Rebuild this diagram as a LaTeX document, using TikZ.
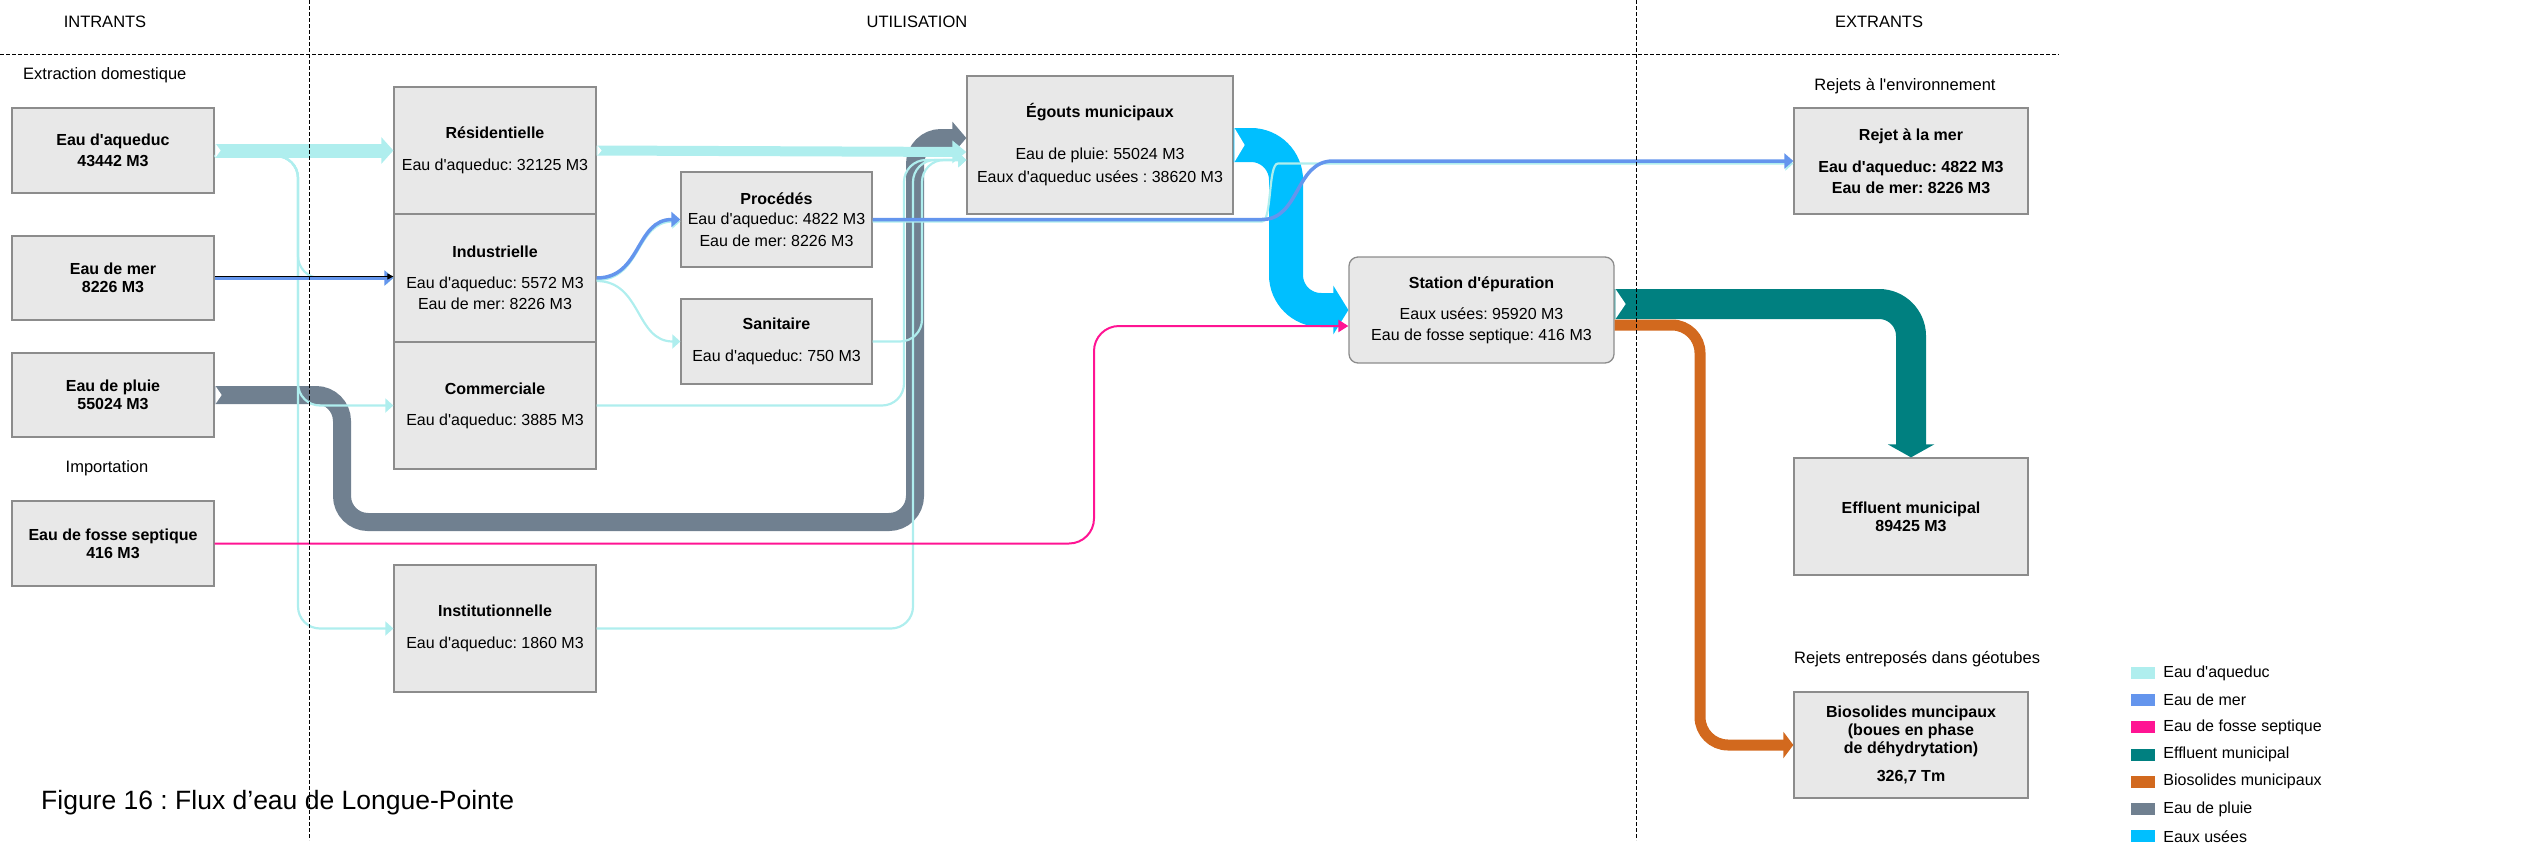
\documentclass[tikz,border=0pt]{standalone}
\usepackage{fontspec}
\setmainfont{Liberation Sans}
\newfontfamily\arial{Liberation Sans}
\usetikzlibrary{arrows.meta,positioning,calc}
\frenchspacing

\definecolor{colAqueduc}{HTML}{AFEEEE}
\definecolor{colMer}{HTML}{6495ED}
\definecolor{colFosse}{HTML}{FF1493}
\definecolor{colEffluent}{HTML}{008080}
\definecolor{colBiosol}{HTML}{D2691E}
\definecolor{colPluie}{HTML}{708090}
\definecolor{colUsees}{HTML}{00BFFF}
\definecolor{boxfill}{HTML}{E8E8E8}
\definecolor{boxline}{HTML}{8C8C8C}

% V-shaped notch at the tail of a band: anchor, half width, depth
\newcommand\notch[3]{\fill[white] ($(#1)+(0.8,-#2)$) -- ($(#1)+(#3,0)$) -- ($(#1)+(0.8,#2)$) -- cycle;}

\begin{document}
\begin{tikzpicture}[x=1pt,y=-1pt,
  every node/.style={font=\arial\fontsize{16}{18}\selectfont, inner sep=0pt},
  boldtext/.style={font=\arial\bfseries\fontsize{16}{18}\selectfont},
  heading/.style={font=\arial\fontsize{16.5}{18}\selectfont},
  flowbox/.style={draw=boxline, fill=boxfill, line width=1.3pt, align=center},
  inbox/.style={flowbox, boldtext, minimum width=202pt, minimum height=85pt},
  sectorbox/.style={flowbox, minimum width=202pt, minimum height=127pt},
  outbox/.style={flowbox, boldtext, minimum width=234pt},
  band/.style={line width=#1, line cap=butt},
  pale/.style={draw=colAqueduc, line width=2.2pt, rounded corners=22pt, -{Triangle[length=8pt,width=14pt]}},
  seaflow/.style={draw=colMer, line width=3.5pt, -{Triangle[length=9pt,width=15pt]}},
  divider/.style={line width=1pt, dash pattern=on 4pt off 2pt},
  swatch/.style={minimum width=24pt, minimum height=12pt}
]
\useasboundingbox (0,0) rectangle (2531,852);

% headings
\node[heading] (intrants) at (105,22) {INTRANTS};
\node[heading] (utilisation) at (917,22) {UTILISATION};
\node[heading] (extrants) at (1879,22) {EXTRANTS};
\node[heading, anchor=west] (extraction) at (23,75) {Extraction domestique};
\node[heading] (importation) at (107,468) {Importation};
\node[heading] (environnement) at (1905,86) {Rejets à l'environnement};
\node[heading, anchor=west] (geotubes) at (1794,659) {Rejets entreposés dans géotubes};

% intrants
\node[inbox] (aqueduc) at (113,150.5) {Eau d'aqueduc\\[3pt]43442 M3};
\node[inbox, minimum height=84pt] (mer) at (113,278) {Eau de mer\\8226 M3};
\node[inbox, minimum height=84pt] (pluie) at (113,395) {Eau de pluie\\55024 M3};
\node[inbox] (fosse) at (113,543.5) {Eau de fosse septique\\416 M3};

% utilisation
\node[sectorbox] (resid) at (495,150.5) {\textbf{Résidentielle}\\[14pt]Eau d'aqueduc: 32125 M3};
\node[sectorbox, minimum height=128pt] (indus) at (495,278) {\textbf{Industrielle}\\[13pt]Eau d'aqueduc: 5572 M3\\[3pt]Eau de mer: 8226 M3};
\node[sectorbox] (comm) at (495,405.5) {\textbf{Commerciale}\\[13pt]Eau d'aqueduc: 3885 M3};
\node[sectorbox] (instit) at (495,628.5) {\textbf{Institutionnelle}\\[14pt]Eau d'aqueduc: 1860 M3};
\node[flowbox, minimum width=191pt, minimum height=95pt] (proc) at (776.5,219.5) {\textbf{Procédés}\\[2pt]Eau d'aqueduc: 4822 M3\\[4pt]Eau de mer: 8226 M3};
\node[flowbox, minimum width=191pt, minimum height=85pt] (sanit) at (776.5,341.5) {\textbf{Sanitaire}\\[14pt]Eau d'aqueduc: 750 M3};
\node[flowbox, minimum width=266pt, minimum height=138pt] (egouts) at (1100,145) {\textbf{Égouts municipaux}\\[24pt]Eau de pluie: 55024 M3\\[5pt]Eaux d'aqueduc usées : 38620 M3};
\node[flowbox, rounded corners=9pt, minimum width=265pt, minimum height=106pt] (station) at (1481.5,310) {\textbf{Station d'épuration}\\[13pt]Eaux usées: 95920 M3\\[3pt]Eau de fosse septique: 416 M3};

% extrants
\node[outbox, minimum height=106pt] (rejet) at (1911,161) {Rejet à la mer\\[14pt]Eau d'aqueduc: 4822 M3\\[3pt]Eau de mer: 8226 M3};
\node[outbox, minimum height=117pt] (effluent) at (1911,516.5) {Effluent municipal\\89425 M3};
\node[outbox, minimum height=106pt] (bio) at (1911,745) {Biosolides muncipaux\\(boues en phase\\de déhydrytation)\\[10pt]326,7 Tm};

% wide flows
\draw[band=18pt, draw=colPluie, rounded corners=26pt, -{Triangle[length=14pt,width=32pt]}] (pluie.east) -- (342,395) -- (342,522) -- (915,522) -- (915,138) -- (egouts.west |- 0,138);
\notch{pluie.east}{9}{7}
\draw[band=34pt, draw=colUsees, rounded corners=35pt, -{Triangle[length=15pt,width=48pt]}] (egouts.east) -- (1286,145) -- (1286,310) -- (station.west);
\notch{egouts.east}{17}{11}
\draw[band=30pt, draw=colEffluent, rounded corners=32pt, -{Triangle[length=13pt,width=46pt]}] (station.east |- 0,304) -- (1911,304) -- (effluent.north);
\notch{station.east |- 0,304}{15}{11}
\draw[band=11pt, draw=colBiosol, rounded corners=28pt, -{Triangle[length=10pt,width=26pt]}] (station.east |- 0,325) -- (1700,325) -- (1700,745) -- (bio.west);

% eau d'aqueduc
\draw[pale] (aqueduc.east |- 0,156) -- (298,156) -- (298,278) -- (indus.west);
\draw[pale] (aqueduc.east |- 0,156) -- (298,156) -- (298,405.5) -- (comm.west);
\draw[pale] (aqueduc.east |- 0,156) -- (298,156) -- (298,628.5) -- (instit.west);
\draw[pale] ($(indus.east)+(0,2)$) .. controls +(45,0) and +(-45,0) .. ($(proc.west)+(0,2)$);
\draw[pale] ($(indus.east)+(0,3)$) .. controls +(45,0) and +(-45,0) .. (sanit.west);
\draw[pale] (comm.east) -- (904,405.5) -- (904,160) -- (egouts.west |- 0,160);
\draw[pale] (sanit.east) -- (922,341.5) -- (922,160) -- (egouts.west |- 0,160);
\draw[pale] (instit.east) -- (913,628.5) -- (913,160) -- (egouts.west |- 0,160);
\draw[pale] ($(proc.east)+(0,2)$) -- (1240,221.5) .. controls (1272,221.5) and (1268,163.5) .. (1300,163.5) -- (rejet.west |- 0,163.5);
\draw[band=14pt, draw=colAqueduc, -{Triangle[length=12pt,width=26pt]}] (aqueduc.east) -- (resid.west);
\notch{aqueduc.east}{7}{6}
\draw[band=10pt, draw=colAqueduc, -{Triangle[length=14pt,width=22pt]}] (resid.east) -- (egouts.west |- 0,152);
\notch{resid.east}{5}{5}

% eau de mer
\draw[seaflow] (mer.east) -- (indus.west);
\draw[line width=1pt, -{Triangle[length=6pt,width=6pt]}] ($(mer.east)+(0,-1.5)$) -- ($(indus.west)+(0,-1.5)$);
\draw[seaflow] (indus.east) .. controls +(45,0) and +(-45,0) .. (proc.west);
\draw[seaflow] (proc.east) -- (1262,219.5) .. controls (1300,219.5) and (1295,161) .. (1333,161) -- (rejet.west);

% eau de fosse septique
\draw[draw=colFosse, line width=2pt, rounded corners=25pt, -{Triangle[length=10pt,width=12pt]}] (fosse.east) -- (1094,543.5) -- (1094,326) -- (station.west |- 0,326);

% sections
\draw[divider] (309,0) -- (309,840);
\draw[divider] (1636,0) -- (1636,840);
\draw[divider] (0,54) -- (2059,54);

% legend
\foreach \col/\lab [count=\i from 0] in {colAqueduc/Eau d'aqueduc, colMer/Eau de mer, colFosse/Eau de fosse septique, colEffluent/Effluent municipal, colBiosol/Biosolides municipaux, colPluie/Eau de pluie, colUsees/Eaux usées} {
  \node[swatch, fill=\col] (sw\i) at (2143,673+27.2*\i) {};
  \node[right=8pt of sw\i] (lg\i) {\lab};
}

\node[anchor=west, font=\arial\fontsize{26.5}{30}\selectfont] (titre) at (41,803) {Figure 16 : Flux d’eau de Longue-Pointe};
\end{tikzpicture}
\end{document}
